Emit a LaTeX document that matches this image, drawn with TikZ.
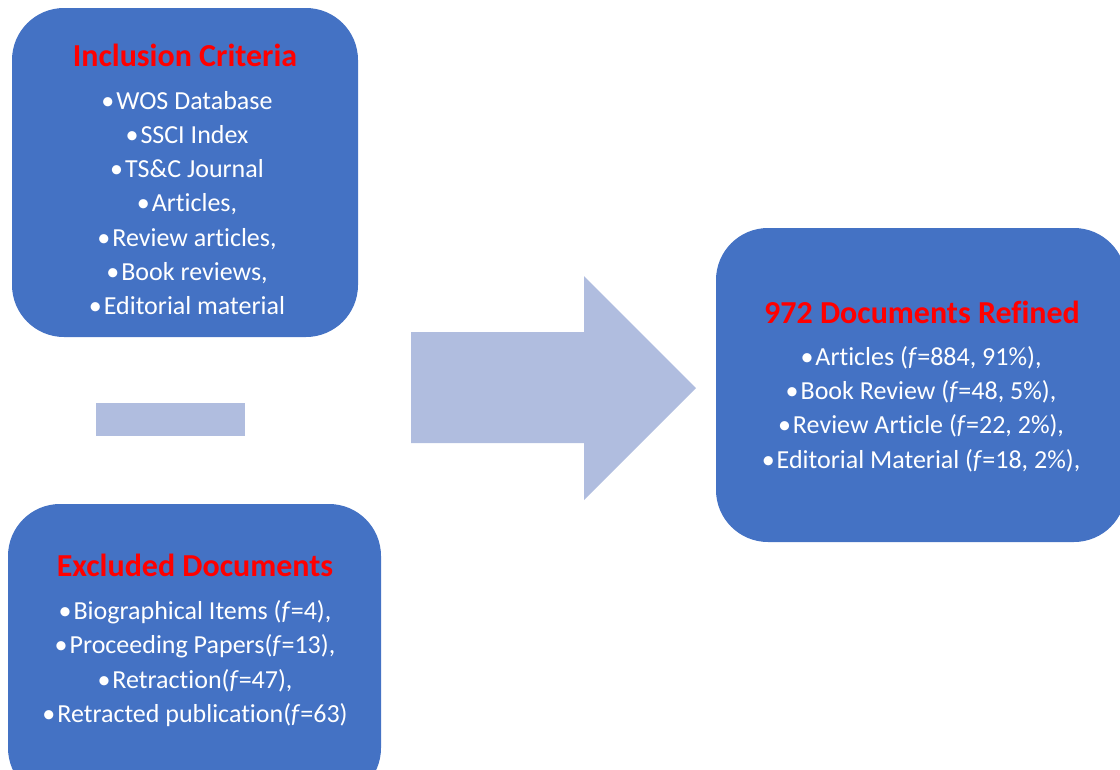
\documentclass[tikz,border=0pt]{standalone}
\usepackage{fontspec}
\setmainfont{Carlito}[Ligatures={NoCommon}]
\definecolor{boxblue}{HTML}{4472C4}
\definecolor{lightblue}{HTML}{B0BDDF}
\definecolor{titlered}{HTML}{FF0000}
\newcommand{\bulitem}{•\kern2pt}
\begin{document}
\begin{tikzpicture}[x=1pt,y=-1pt,
  bluebox/.style={fill=boxblue, draw=none, rounded corners=52pt},
  titletext/.style={text=titlered, font=\fontsize{32}{36}\selectfont\bfseries, inner sep=0pt, anchor=center},
  bodytext/.style={text=white, font=\fontsize{26}{34.2}\selectfont, align=center, inner sep=0pt, anchor=center},
  shapefill/.style={fill=lightblue, draw=none}]
\useasboundingbox (0,0) rectangle (1120,769);
\clip (0,0) rectangle (1120,769);
% boxes
\fill[bluebox] (12,8) rectangle (358,337);
\fill[bluebox] (8,504) rectangle (381,800);
\fill[bluebox] (716,228) rectangle (1126,542);
% minus sign
\fill[shapefill] (96,403) rectangle (245,436);
% block arrow
\fill[shapefill] (411,332) -- (584,332) -- (584,276) -- (696,388) -- (584,500) -- (584,443) -- (411,443) -- cycle;
% texts
\node[titletext] (inct) at (185,55) {Inclusion Criteria};
\node[bodytext] (incb) at (187,203) {\bulitem WOS Database\\\bulitem SSCI Index\\\bulitem TS\&C Journal\\\bulitem Articles,\\\bulitem Review articles,\\\bulitem Book reviews,\\\bulitem Editorial material};
\node[titletext] (exct) at (195,565) {Excluded Documents};
\node[bodytext] (excb) at (195,663.5) {\bulitem Biographical Items (\textit{f}=4),\\\bulitem Proceeding Papers(\textit{f}=13),\\\bulitem Retraction(\textit{f}=47),\\\bulitem Retracted publication(\textit{f}=63)};
\node[titletext] (reft) at (922,312) {972 Documents Refined};
\node[bodytext] (refb) at (921,409) {\bulitem Articles (\textit{f}=884, 91\%),\\\bulitem Book Review (\textit{f}=48, 5\%),\\\bulitem Review Article (\textit{f}=22, 2\%),\\\bulitem Editorial Material (\textit{f}=18, 2\%),};
\end{tikzpicture}
\end{document}
